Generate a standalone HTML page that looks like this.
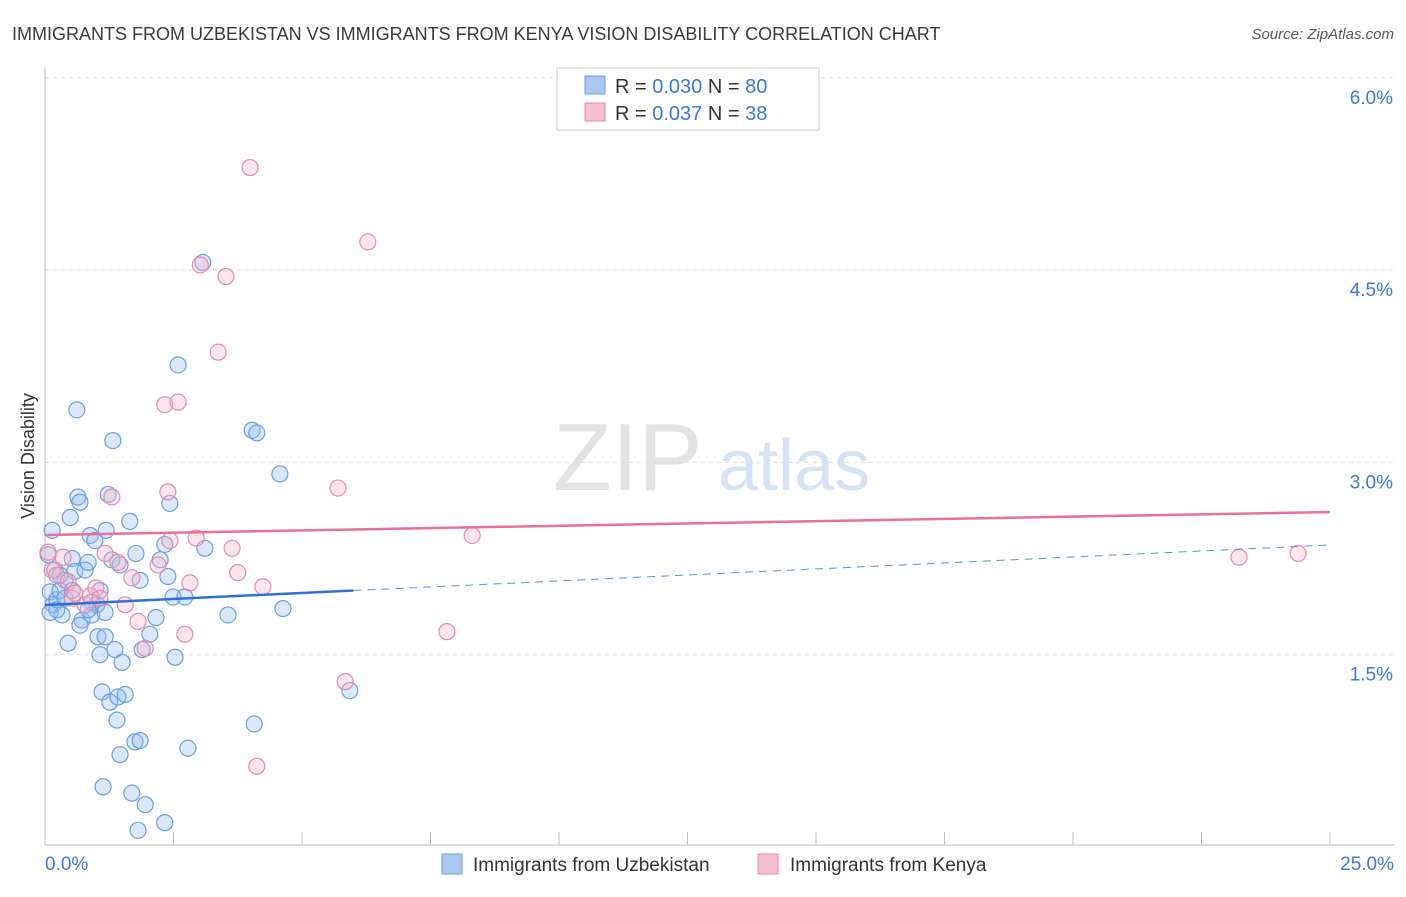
<!DOCTYPE html>
<html><head><meta charset="utf-8"><style>
body{margin:0;background:#fff;font-family:"Liberation Sans",sans-serif;}
svg text{font-family:"Liberation Sans",sans-serif;}
</style></head><body>
<svg id="chart" width="1406" height="892" xmlns="http://www.w3.org/2000/svg">
<text x="12" y="40" font-size="18" fill="#3a3a3a">IMMIGRANTS FROM UZBEKISTAN VS IMMIGRANTS FROM KENYA VISION DISABILITY CORRELATION CHART</text>
<text x="1394" y="39" font-size="15" fill="#555" font-style="italic" text-anchor="end">Source: ZipAtlas.com</text>
<g>
<text x="553" y="490" font-size="96" fill="#d8d8d8" font-family="Liberation Serif" opacity="0.7">ZIP</text>
<text x="718" y="490" font-size="72" fill="#c5d8f0" opacity="0.7">atlas</text>
</g>
<g id="grid"></g>
<g id="axes"></g>
<g id="points"></g>
<g id="trends"></g>
<text transform="translate(34,456) rotate(-90)" font-size="18" fill="#333" text-anchor="middle">Vision Disability</text>
<g>
<rect x="557" y="68" width="262" height="62" fill="#fff" stroke="#ccc"/>
<rect x="585" y="76" width="20" height="18" fill="#a8c8f0" stroke="#6a9fe0"/>
<rect x="585" y="103" width="20" height="18" fill="#f5c0d0" stroke="#e88aa8"/>
<text x="615" y="93" font-size="20" fill="#333">R = <tspan fill="#3a78d8">0.030</tspan>   N = <tspan fill="#3a78d8">80</tspan></text>
<text x="615" y="120" font-size="20" fill="#333">R =  <tspan fill="#3a78d8">0.037</tspan>   N =  <tspan fill="#3a78d8">38</tspan></text>
</g>
<g>
<rect x="442" y="854" width="20" height="20" fill="#a8c8f0" stroke="#6a9fe0"/>
<text x="473" y="871" font-size="19" fill="#333">Immigrants from Uzbekistan</text>
<rect x="758" y="854" width="20" height="20" fill="#f5c0d0" stroke="#e88aa8"/>
<text x="790" y="871" font-size="19" fill="#333">Immigrants from Kenya</text>
</g>
</svg>
<script>
const xTicksLabels=["0.0%","25.0%"];
const yTickValues=[1.5,3.0,4.5,6.0];
const yTickLabels=["1.5%","3.0%","4.5%","6.0%"];
const blueX=[0.14,0.06,0.19,0.10,0.16,0.10,0.23,0.33,0.29,0.39,0.45,0.49,0.53,0.58,0.62,0.64,0.68,0.72,0.78,0.84,0.88,0.91,0.97,1.01,1.03,1.07,1.07,1.11,1.13,1.17,1.19,1.23,1.26,1.30,1.32,1.36,1.40,1.42,1.46,1.46,1.50,1.56,1.65,1.69,1.75,1.77,1.81,1.85,1.89,1.95,2.04,2.16,2.24,2.33,2.33,2.39,2.43,2.49,2.53,2.59,2.72,2.78,3.07,3.11,3.56,4.03,4.12,4.07,4.57,4.63,5.93,0.23,0.68,0.91,0.39,1.17,1.85,0.53,0.84,0.29];
const blueY=[2.47,2.28,2.16,1.99,1.89,1.83,1.93,1.81,2.00,2.08,1.59,2.57,2.25,2.15,3.41,2.73,2.69,1.77,2.16,2.22,2.43,1.81,2.39,1.89,1.64,2.00,1.50,1.21,0.47,1.64,2.47,2.75,1.13,2.24,3.17,1.54,0.99,1.17,2.20,0.72,1.44,1.19,2.54,0.42,0.82,2.29,0.13,0.83,1.54,0.33,1.66,1.79,2.24,0.19,2.36,2.11,2.68,1.95,1.48,3.76,1.95,0.77,4.56,2.33,1.81,3.25,3.23,0.96,2.91,1.86,1.22,1.85,1.73,1.91,1.94,1.83,2.08,2.00,1.85,2.12];
const pinkX=[0.06,0.14,0.23,0.35,0.45,0.53,0.58,0.78,0.88,0.99,1.07,1.17,1.30,1.42,1.56,1.69,1.81,1.95,2.20,2.33,2.39,2.43,2.59,2.72,2.82,2.94,3.02,3.37,3.52,3.64,3.75,3.99,4.12,4.24,5.70,5.84,6.28,7.82,8.31,23.23,24.38];
const pinkY=[2.30,2.16,2.12,2.26,2.07,1.94,1.98,1.89,1.96,2.02,1.94,2.29,2.73,2.22,1.89,2.10,1.76,1.55,2.20,3.45,2.77,2.39,3.47,1.66,2.06,2.41,4.54,3.86,4.45,2.33,2.14,5.30,0.63,2.03,2.80,1.29,4.72,1.68,2.43,2.26,2.29];
const blueTrend=[1.888,2.356]; const blueSolidEnd=6.0;
const pinkTrend=[2.434,2.613];
const NS="http://www.w3.org/2000/svg";
const X=v=>45+v/25*1285;
const Y=v=>847-v*128.2;
function mk(t,a,p){const e=document.createElementNS(NS,t);for(const k in a)e.setAttribute(k,a[k]);p.appendChild(e);return e;}
const grid=document.getElementById('grid'),axes=document.getElementById('axes'),pts=document.getElementById('points'),tr=document.getElementById('trends');
yTickValues.forEach((v,i)=>{
 const l=mk('line',{x1:45,x2:1394,y1:Y(v),y2:Y(v),stroke:'#ddd','stroke-dasharray':'4,4'},grid);
 
 
 const t=mk('text',{x:1393,y:Y(v)+26,'font-size':19,fill:'#3a78d8','text-anchor':'end'},axes);
 t.textContent=yTickLabels[i];
 
 
});
mk('line',{x1:45,x2:45,y1:68,y2:845,stroke:'#bbb'},axes);
mk('line',{x1:45,x2:1394,y1:845,y2:845,stroke:'#bbb'},axes);
for(let i=0;i<=10;i++){mk('line',{x1:X(i*2.5),x2:X(i*2.5),y1:832,y2:845,stroke:'#bbb'},axes);}
[[0,'start',45],[1,'end',1394]].forEach(([i,a,x])=>{const t=mk('text',{x:x,y:870,'font-size':19,fill:'#3a78d8','text-anchor':a},axes);t.textContent=xTicksLabels[i];
 
 });
blueX.forEach((x,i)=>{const c=mk('circle',{cx:X(x),cy:Y(blueY[i]),r:8,fill:'rgba(150,190,240,0.35)',stroke:'#6a9fe0','stroke-width':1.2},pts);
 
 });
pinkX.forEach((x,i)=>{const c=mk('circle',{cx:X(x),cy:Y(pinkY[i]),r:8,fill:'rgba(245,180,200,0.35)',stroke:'#e88aa8','stroke-width':1.2},pts);
 
 });
const by=v=>blueTrend[0]+(blueTrend[1]-blueTrend[0])*v/25;
let l1=mk('line',{x1:X(0),y1:Y(by(0)),x2:X(blueSolidEnd),y2:Y(by(blueSolidEnd)),stroke:'#2f6fd6','stroke-width':2.5},tr);


let l2=mk('line',{x1:X(blueSolidEnd),y1:Y(by(blueSolidEnd)),x2:X(25),y2:Y(by(25)),stroke:'#5a8fe0','stroke-width':1,'stroke-dasharray':'8,6'},tr);


let l3=mk('line',{x1:X(0),y1:Y(pinkTrend[0]),x2:X(25),y2:Y(pinkTrend[1]),stroke:'#e8709a','stroke-width':2.5},tr);


</script>
</body></html>
